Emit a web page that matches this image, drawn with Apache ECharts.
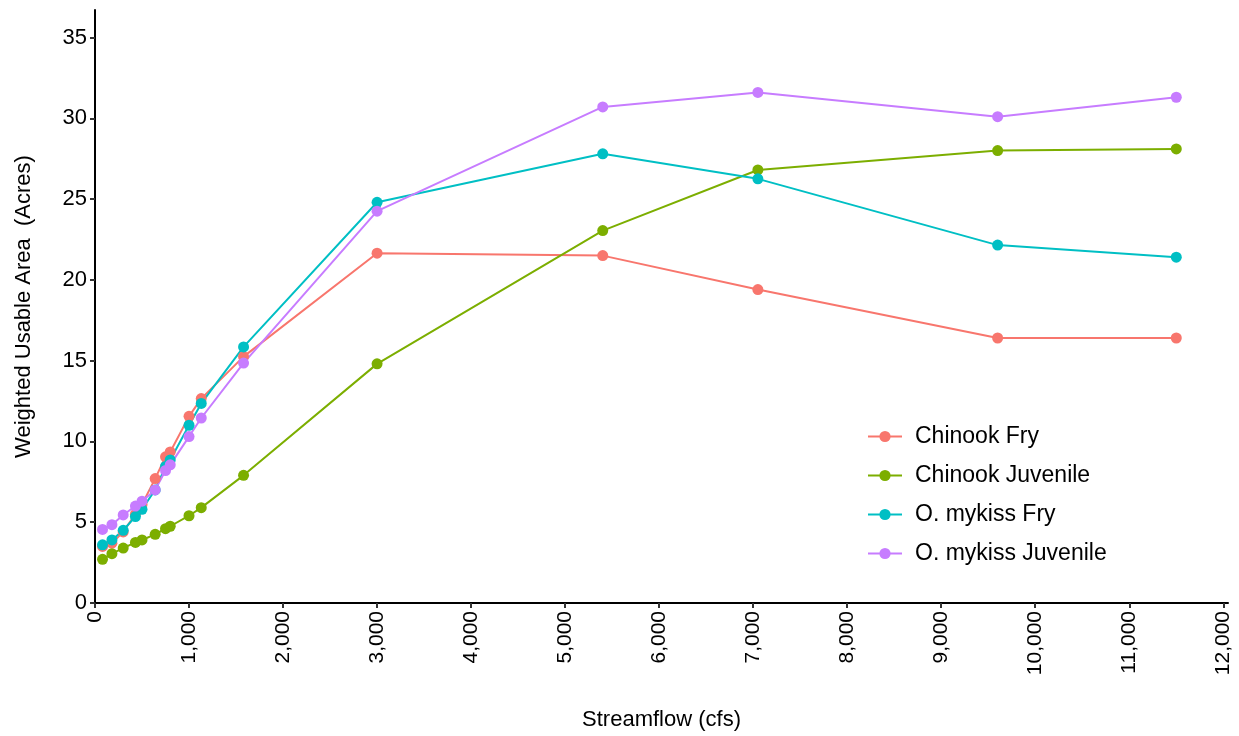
<!DOCTYPE html>
<html>
<head>
<meta charset="utf-8">
<script src="https://cdn.jsdelivr.net/npm/echarts@6/dist/echarts.min.js"></script>
<style>html,body{margin:0;padding:0;background:#fff}#c{width:1239px;height:736px}</style>
</head>
<body>
<div id="c"></div>
<script>
var flows = [80, 180, 300, 430, 500, 640, 750, 800, 1000, 1130, 1580, 3000, 5400, 7050, 9600, 11500];
var chinookFry = [3.5, 3.7, 4.4, 5.5, 6.1, 7.7, 9.05, 9.35, 11.55, 12.65, 15.25, 21.65, 21.5, 19.4, 16.4, 16.4];
var chinookJuv = [2.7, 3.05, 3.4, 3.75, 3.9, 4.25, 4.6, 4.75, 5.4, 5.9, 7.9, 14.8, 23.05, 26.8, 28.0, 28.1];
var mykissFry = [3.6, 3.9, 4.5, 5.35, 5.8, 7.0, 8.45, 8.85, 11.0, 12.35, 15.85, 24.8, 27.8, 26.25, 22.15, 21.4];
var mykissJuv = [4.55, 4.85, 5.45, 6.0, 6.3, 7.0, 8.2, 8.55, 10.3, 11.45, 14.85, 24.25, 30.7, 31.6, 30.1, 31.3];
var seriesNames = ['Chinook Fry', 'Chinook Juvenile', 'O. mykiss Fry', 'O. mykiss Juvenile'];
var xTicks = [0,1000,2000,3000,4000,5000,6000,7000,8000,9000,10000,11000,12000];
var yTicks = [0,5,10,15,20,25,30,35];
var colors = ['#F8766D', '#7CAE00', '#00BFC4', '#C77CFF'];

function pairs(v){ return flows.map(function(f,i){ return [f, v[i]]; }); }
var allData = [chinookFry, chinookJuv, mykissFry, mykissJuv];
var font = 'Liberation Sans, Arial, sans-serif';

var chart = echarts.init(document.getElementById('c'));
chart.setOption({
  animation: false,
  color: colors,
  textStyle: {fontFamily: font},
  grid: {left: 95, right: 11, top: 10, bottom: 133, containLabel: false},
  xAxis: {
    type: 'value', min: 0, max: 12050,
    name: 'Streamflow (cfs)', nameLocation: 'middle', nameGap: 106,
    nameTextStyle: {fontSize: 22, color: '#000', fontFamily: font},
    splitLine: {show: false},
    axisLine: {lineStyle: {color: '#000', width: 2}},
    axisTick: {show: true, length: 5, lineStyle: {color: '#333', width: 2}, customValues: xTicks},
    axisLabel: {customValues: xTicks, rotate: 90, fontSize: 21, color: '#000', margin: 8,
      formatter: function(v){ return v.toLocaleString('en-US'); }}
  },
  yAxis: {
    type: 'value', min: 0, max: 36.7,
    name: 'Weighted Usable Area  (Acres)', nameLocation: 'middle', nameGap: 60,
    nameTextStyle: {fontSize: 22, color: '#000', fontFamily: font},
    splitLine: {show: false},
    axisLine: {show: true, lineStyle: {color: '#000', width: 2}},
    axisTick: {show: true, length: 5, lineStyle: {color: '#333', width: 2}, customValues: yTicks},
    axisLabel: {customValues: yTicks, fontSize: 22, color: '#000', margin: 8}
  },
  legend: {
    orient: 'vertical', left: 862, top: 420,
    itemWidth: 34, itemHeight: 14, itemGap: 16,
    textStyle: {fontSize: 23, color: '#000', fontFamily: font, padding: [0,0,0,8]},
    data: seriesNames
  },
  series: seriesNames.map(function(n, i){
    return {
      name: n, type: 'line', data: pairs(allData[i]),
      symbol: 'circle', symbolSize: 11,
      lineStyle: {width: 2, color: colors[i]},
      itemStyle: {color: colors[i]}
    };
  })
});
</script>
</body>
</html>
